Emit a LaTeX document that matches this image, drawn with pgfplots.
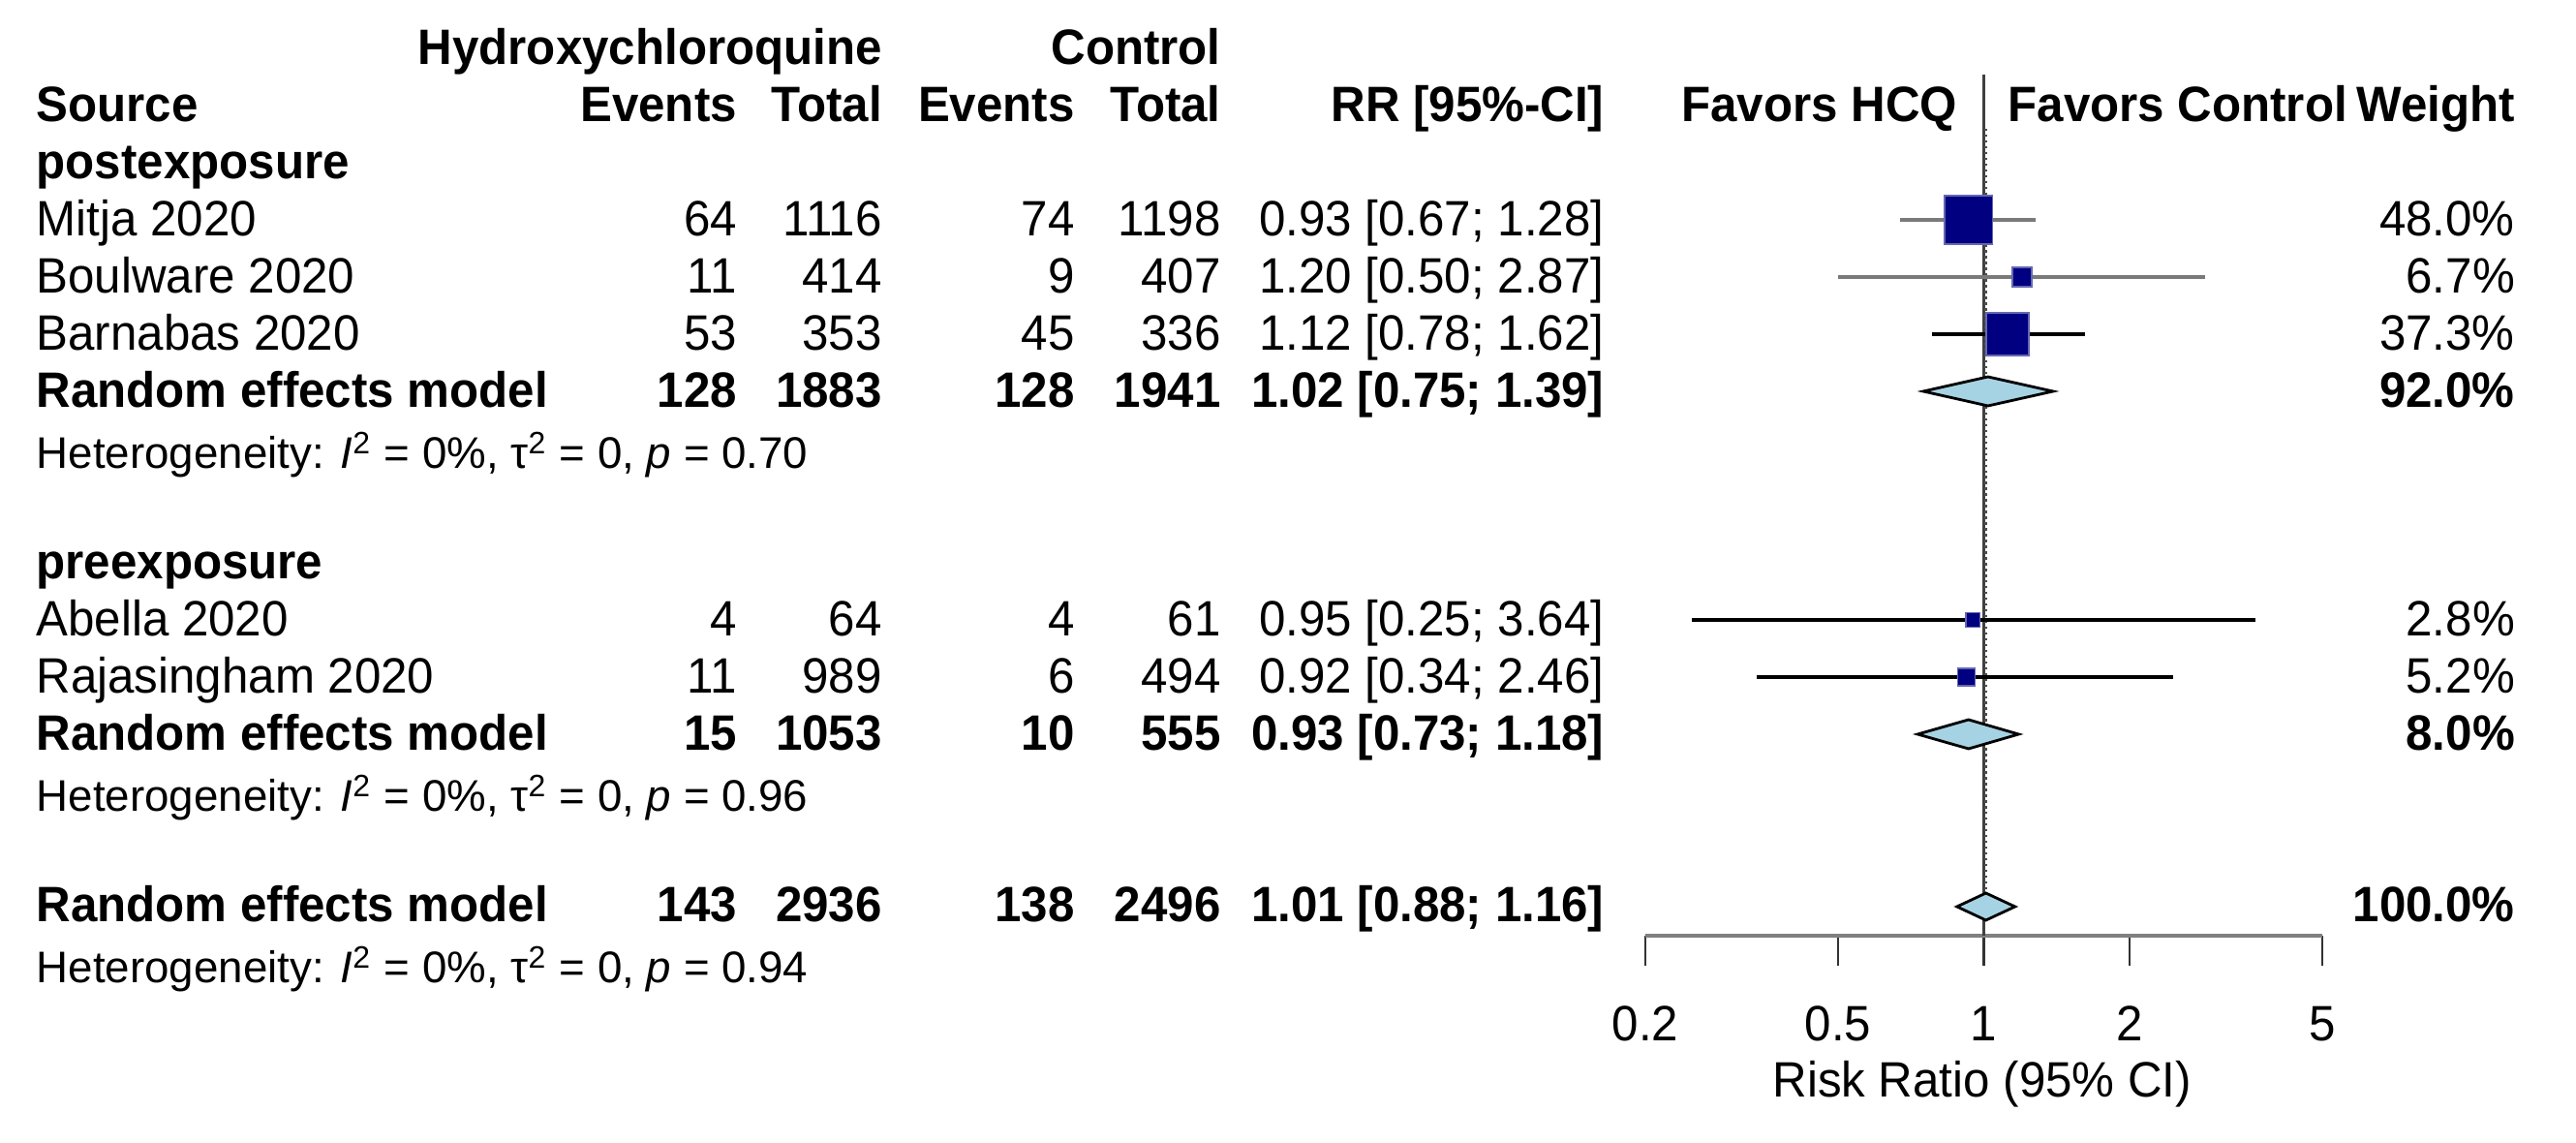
\documentclass[border=0pt]{standalone}
\usepackage{pgfplots}
\pgfplotsset{compat=1.18}
\usepackage{fontspec}
\setmainfont[FakeStretch=0.96]{Liberation Sans}
\newfontfamily\hetfont{Liberation Sans}
\definecolor{sqblue}{HTML}{000080}
\definecolor{dmblue}{HTML}{A6D3E3}
\definecolor{cigray}{HTML}{7A7A7A}

% one table row: baseline, name, events, total, events, total, RR, weight
\newcommand{\trow}[8]{%
  \node[anchor=base west] at (37,#1) {#2};
  \node[anchor=base east] at (762,#1) {#3};
  \node[anchor=base east] at (912,#1) {#4};
  \node[anchor=base east] at (1111,#1) {#5};
  \node[anchor=base east] at (1262,#1) {#6};
  \node[anchor=base east] at (1658,#1) {#7};
  \node[anchor=base east] at (2599,#1) {#8};
}
\newcommand{\het}[2]{%
  \node[anchor=base west, font=\hetfont\fontsize{13}{14}\selectfont] at (37,#1)
    {Heterogeneity: \textit{I}\textsuperscript{2} = 0\%, τ\textsuperscript{2} = 0, \textit{p} = #2};
}

\begin{document}
\begin{tikzpicture}[every node/.style={font=\fontsize{14.6}{16}\selectfont, inner sep=0pt}]
\path (0,0) rectangle (26.6,11.8);

\begin{axis}[
    at={(16.99cm,2.14cm)}, anchor=south west,
    scale only axis, width=6.99cm, height=9.66cm,
    xmode=log, xmin=0.2, xmax=5,
    ymin=-966, ymax=0,
    clip=false,
    axis x line*=bottom, axis y line=none,
    x axis line style={-, draw=gray, line width=1.4pt},
    xtick={0.2,0.5,1,2,5},
    xticklabels={0.2,0.5,1,2,5},
    xminorticks=false,
    tick align=outside,
    major tick length=0.31cm,
    major tick style={black!80, line width=0.8pt},
    xticklabel style={anchor=north, yshift=-0.41cm},
    /pgf/number format/assume math mode=true,
]
% line of no effect and overall estimate
\addplot[black!75, line width=0.6pt] coordinates {(1,-77)(1,-966)};
\addplot[black!70, densely dotted, line width=0.7pt] coordinates {(1.01,-133)(1.01,-923)};

% postexposure studies
\addplot[cigray, line width=1.3pt] coordinates {(0.67,-227)(1.28,-227)};
\addplot[only marks, mark=square*, mark size=7.1pt, mark options={fill=sqblue, draw=sqblue!60!white, line width=0.4pt}] coordinates {(0.93,-227)};
\addplot[black, line width=0.4pt] coordinates {(0.83,-227)(1.04,-227)};
\addplot[black, line width=0.4pt] coordinates {(0.93,-217)(0.93,-237)};

\addplot[cigray, line width=1.3pt] coordinates {(0.50,-286)(2.87,-286)};
\addplot[only marks, mark=square*, mark size=2.85pt, mark options={fill=sqblue, draw=sqblue!60!white, line width=0.4pt}] coordinates {(1.20,-286)};
\addplot[black, line width=0.4pt] coordinates {(1.20,-280)(1.20,-292)};

\addplot[black, line width=1.3pt] coordinates {(0.78,-345)(1.62,-345)};
\addplot[only marks, mark=square*, mark size=6.25pt, mark options={fill=sqblue, draw=sqblue!60!white, line width=0.4pt}] coordinates {(1.12,-345)};
\addplot[black, line width=0.4pt] coordinates {(1.01,-345)(1.24,-345)};
\addplot[black, line width=0.4pt] coordinates {(1.12,-335)(1.12,-355)};

\addplot[fill=dmblue, draw=black, line width=0.8pt] coordinates {(0.75,-404)(1.02,-389)(1.39,-404)(1.02,-419)} -- cycle;

% preexposure studies
\addplot[black, line width=1.3pt] coordinates {(0.25,-640)(3.64,-640)};
\addplot[only marks, mark=square*, mark size=2.1pt, mark options={fill=sqblue, draw=sqblue!60!white, line width=0.4pt}] coordinates {(0.95,-640)};

\addplot[black, line width=1.3pt] coordinates {(0.34,-699)(2.46,-699)};
\addplot[only marks, mark=square*, mark size=2.55pt, mark options={fill=sqblue, draw=sqblue!60!white, line width=0.4pt}] coordinates {(0.92,-699)};

\addplot[fill=dmblue, draw=black, line width=0.8pt] coordinates {(0.73,-758)(0.93,-743)(1.18,-758)(0.93,-773)} -- cycle;

% overall
\addplot[fill=dmblue, draw=black, line width=0.8pt] coordinates {(0.88,-936)(1.01,-922)(1.16,-936)(1.01,-950)} -- cycle;
\end{axis}

\begin{scope}[x=0.01cm, y=-0.01cm, shift={(0cm,11.8cm)}]
% headers
\node[anchor=base east, font=\fontsize{14.6}{16}\selectfont\bfseries] at (912,67) {Hydroxychloroquine};
\node[anchor=base east, font=\fontsize{14.6}{16}\selectfont\bfseries] at (1262,67) {Control};
\begingroup
\tikzset{every node/.append style={font=\fontsize{14.6}{16}\selectfont\bfseries}}
\trow{126}{Source}{Events}{Total}{Events}{Total}{RR [95\%-CI]}{Weight}
\node[anchor=base east] at (2023,126) {Favors HCQ};
\node[anchor=base west] at (2074,126) {Favors Control};
\node[anchor=base west] at (37,185) {postexposure};
\endgroup

\trow{244}{Mitja 2020}{64}{1116}{74}{1198}{0.93 [0.67; 1.28]}{48.0\%}
\trow{303}{Boulware 2020}{11}{414}{9}{407}{1.20 [0.50; 2.87]}{6.7\%}
\trow{362}{Barnabas 2020}{53}{353}{45}{336}{1.12 [0.78; 1.62]}{37.3\%}
\begingroup
\tikzset{every node/.append style={font=\fontsize{14.6}{16}\selectfont\bfseries}}
\trow{421}{Random effects model}{128}{1883}{128}{1941}{1.02 [0.75; 1.39]}{92.0\%}
\endgroup
\het{484}{0.70}

\node[anchor=base west, font=\fontsize{14.6}{16}\selectfont\bfseries] at (37,598) {preexposure};
\trow{657}{Abella 2020}{4}{64}{4}{61}{0.95 [0.25; 3.64]}{2.8\%}
\trow{716}{Rajasingham 2020}{11}{989}{6}{494}{0.92 [0.34; 2.46]}{5.2\%}
\begingroup
\tikzset{every node/.append style={font=\fontsize{14.6}{16}\selectfont\bfseries}}
\trow{775}{Random effects model}{15}{1053}{10}{555}{0.93 [0.73; 1.18]}{8.0\%}
\endgroup
\het{838}{0.96}

\begingroup
\tikzset{every node/.append style={font=\fontsize{14.6}{16}\selectfont\bfseries}}
\trow{952}{Random effects model}{143}{2936}{138}{2496}{1.01 [0.88; 1.16]}{100.0\%}
\endgroup
\het{1015}{0.94}

\node[anchor=base] at (2048,1133) {Risk Ratio (95\% CI)};
\end{scope}
\end{tikzpicture}
\end{document}
